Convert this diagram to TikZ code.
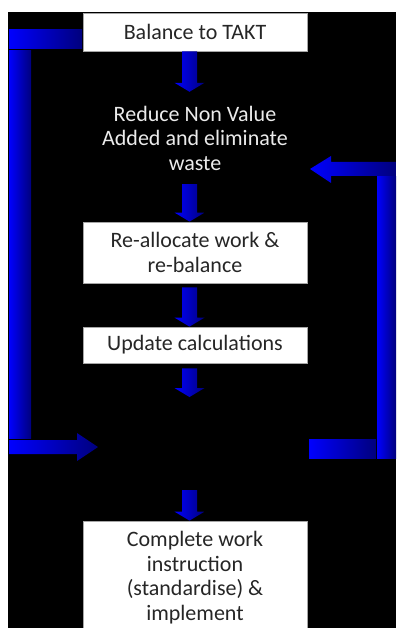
\documentclass[tikz,border=0pt]{standalone}
\usepackage{fontspec}
\setmainfont{Carlito}
\usepackage{tikz}
\usetikzlibrary{calc}
\definecolor{navy}{RGB}{0,0,125}
\definecolor{boxtext}{RGB}{38,38,38}

% block arrow pointing down, from #1 to #2
\newcommand{\dnarrow}[2]{\shade[bar] let \p1=(#1),\p2=(#2) in (\x1-7.5pt,\y1)--(\x1+7.5pt,\y1)--(\x1+7.5pt,\y2+9pt)--(\x1+15pt,\y2+9pt)--(\x1,\y2)--(\x1-15pt,\y2+9pt)--(\x1-7.5pt,\y2+9pt)--cycle;}

\begin{document}
\begin{tikzpicture}[x=1pt,y=-1pt,
  bar/.style={left color=blue,right color=navy},
  stepbox/.style={draw=gray!70,line width=0.8pt,fill=white,text=boxtext,minimum width=224pt,align=center,inner sep=2pt},
  font=\fontsize{22}{24.5}\selectfont]
\useasboundingbox (0,0) rectangle (396,628);
\fill[white](0,0) rectangle (396,628);
\fill[black](8,12) rectangle (396,628);

\node[stepbox,minimum height=38pt] (bal) at (195,32) {Balance to TAKT};
\node[align=center,text=white!92!black,minimum height=92pt] (red) at (195,138) {Reduce Non Value\\Added and eliminate\\waste};
\node[stepbox,minimum height=61pt] (alloc) at (195,252.5) {Re-allocate work \&\\re-balance};
\node[stepbox,minimum height=36pt] (upd) at (195,345) {Update calculations};
\node[stepbox,minimum height=113pt] (comp) at (195,577.5) {Complete work\\instruction\\(standardise) \&\\implement};
\coordinate (gapin) at (189.5,397);
\coordinate (gapout) at (189.5,490);

\dnarrow{[xshift=-5.5pt]bal.south}{red.north}
\dnarrow{[xshift=-5.5pt]red.south}{alloc.north}
\dnarrow{[xshift=-5.5pt,yshift=-4pt]alloc.south}{upd.north}
\dnarrow{[xshift=-5.5pt,yshift=-5pt]upd.south}{gapin}
\dnarrow{gapout}{comp.north}

% left loop back into the gap
\shade[bar](9,30) rectangle (82,49);
\shade[bar](9,51) rectangle (31,438);
\shade[bar](9,440)--(77,440)--(77,433)--(98,447)--(77,461)--(77,454)--(9,454)--cycle;
% right loop back to red
\shade[bar](309,439) rectangle (376,458);
\shade[bar](377,177) rectangle (396,458);
\shade[bar](396,162)--(331,162)--(331,156)--(310,169)--(331,183)--(331,176)--(396,176)--cycle;
\end{tikzpicture}
\end{document}
